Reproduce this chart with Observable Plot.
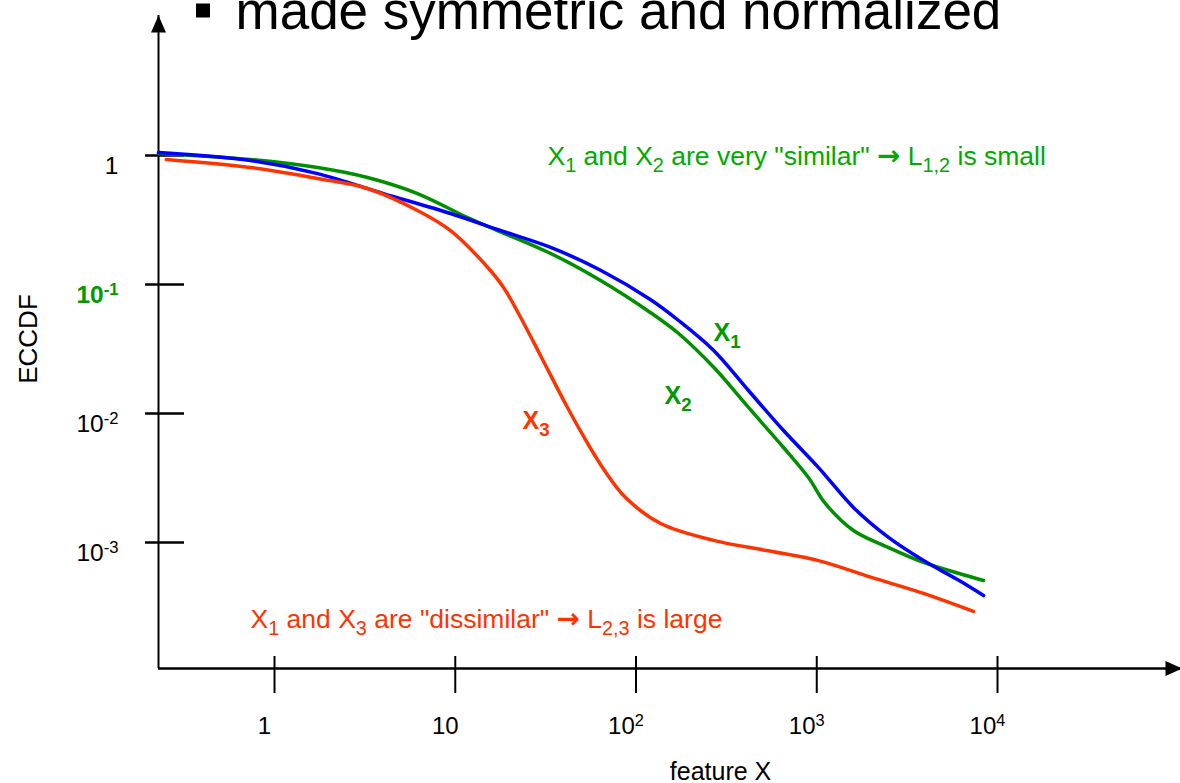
<!DOCTYPE html>
<html>
<head>
<meta charset="utf-8">
<script src="https://cdn.jsdelivr.net/npm/d3@7"></script>
<script src="https://cdn.jsdelivr.net/npm/@observablehq/plot@0.6"></script>
<style>
  html, body { margin: 0; padding: 0; background: #fff; }
  #chart svg { display: block; }
</style>
</head>
<body>
<div id="chart"></div>
<script>
// ---------- data ----------
const x1Feature = [0.228, 0.736, 1.73, 4.01, 9.42, 17.1, 33.7, 63.7, 120, 172, 269, 419, 655, 1023, 1596, 2495, 3899, 6138, 8375];
const x1Eccdf   = [1.054, 0.914, 0.724, 0.507, 0.355, 0.267, 0.194, 0.129, 0.0765, 0.0526, 0.0308, 0.01507, 0.00738, 0.00381, 0.001868, 0.001094, 0.000724, 0.000507, 0.000388];

const x2Feature = [0.228, 0.736, 1.73, 3.27, 6.18, 11.7, 17.1, 33.7, 63.7, 120, 172, 269, 419, 655, 899, 1117, 1596, 2495, 3899, 6138, 8375];
const x2Eccdf   = [1.037, 0.931, 0.807, 0.675, 0.507, 0.330, 0.262, 0.174, 0.1074, 0.0607, 0.0417, 0.0228, 0.01114, 0.00545, 0.00319, 0.002004, 0.001239, 0.000914, 0.000700, 0.000575, 0.000507];

const x3Feature = [0.252, 0.736, 1.73, 3.27, 6.18, 9.42, 14.3, 18.5, 23.0, 30.0, 41.2, 51.3, 67.0, 87.5, 137, 269, 527, 1023, 2009, 3899, 7362];
const x3Eccdf   = [0.931, 0.807, 0.664, 0.555, 0.375, 0.262, 0.148, 0.0948, 0.0555, 0.0272, 0.01153, 0.00664, 0.00361, 0.00223, 0.001403, 0.001038, 0.000867, 0.000724, 0.000536, 0.000403, 0.000292];

const xTicks = [1, 10, 100, 1000, 10000];
const xTickLabels = ["1", "10", "10^{2}", "10^{3}", "10^{4}"];
const yTicks = [1, 0.1, 0.01, 0.001];
const yTickLabels = ["1", "10^{-1}", "10^{-2}", "10^{-3}"];
const yHighlight = 0.1;

const xDomain = [0.2281, 102900];
const yDomain = [1.055e-4, 12.17];

const titleText = "made symmetric and normalized";
const xLabel = "feature X";
const yLabel = "ECCDF";
const noteSimilar = "X_{1} and X_{2} are very \"similar\" *{\u2192} L_{1,2} is small";
const noteDissimilar = "X_{1} and X_{3} are \"dissimilar\" *{\u2192} L_{2,3} is large";
const seriesNames = ["X_{1}", "X_{2}", "X_{3}"];

// ---------- styling ----------
const BLUE = "#0000ff", GREEN_LINE = "#008f00", GREEN_TEXT = "#00aa00", GREEN_LABEL = "#009900", RED = "#ff3300";
const FONT = "'Liberation Sans', Arial, Helvetica, sans-serif";

const toRows = (xs, ys) => xs.map((x, i) => ({x, y: ys[i]}));
const s1 = toRows(x1Feature, x1Eccdf);
const s2 = toRows(x2Feature, x2Eccdf);
const s3 = toRows(x3Feature, x3Eccdf);

const xTickRows = xTicks.map((v, i) => ({v, label: xTickLabels[i]}));
const yTickRows = yTicks.map((v, i) => ({v, label: yTickLabels[i]}));

const arrowUp = {draw(ctx) { ctx.moveTo(0, 0); ctx.lineTo(7.5, 17); ctx.lineTo(-7.5, 17); ctx.closePath(); }};
const arrowRight = {draw(ctx) { ctx.moveTo(2, 0); ctx.lineTo(-15, 7.5); ctx.lineTo(-15, -7.5); ctx.closePath(); }};
const squareSym = {draw(ctx) { ctx.rect(-7, -7, 14, 14); }};

const W = 1180, H = 783, ML = 158, MR = 0, MT = 15, MB = 115;
const frameW = W - ML - MR, frameH = H - MT - MB;

const chart = Plot.plot({
  width: W, height: H,
  marginLeft: ML, marginRight: MR, marginTop: MT, marginBottom: MB,
  style: {fontFamily: FONT, background: "#fff", color: "#000", overflow: "visible"},
  x: {type: "log", domain: xDomain, axis: null},
  y: {type: "log", domain: yDomain, axis: null},
  marks: [
    // axis lines
    Plot.ruleY([yDomain[0]], {y: d => d, stroke: "#000", strokeWidth: 2.5}),
    Plot.ruleX([xDomain[0]], {x: d => d, stroke: "#000", strokeWidth: 2}),
    // ticks crossing the axes
    Plot.tickX(xTicks, {x: d => d, stroke: "#000", strokeWidth: 2, insetTop: frameH - 12, insetBottom: -25}),
    Plot.tickY(yTicks, {y: d => d, stroke: "#000", strokeWidth: 2.5, insetLeft: -13, insetRight: frameW - 26}),
    // arrow heads
    Plot.dot([0], {x: () => xDomain[0], y: () => yDomain[1], symbol: arrowUp, fill: "#000", stroke: "none", r: 8}),
    Plot.dot([0], {x: () => xDomain[1], y: () => yDomain[0], symbol: arrowRight, fill: "#000", stroke: "none", r: 8}),
    // tick labels
    Plot.text(xTickRows, {x: "v", text: "label", frameAnchor: "bottom", dy: 65, dx: -10, lineAnchor: "bottom", textAnchor: "middle", fontSize: 24, fill: "#000"}),
    Plot.text(yTickRows.filter(d => d.v !== yHighlight), {y: "v", text: "label", frameAnchor: "left", dx: -40, dy: 18, lineAnchor: "bottom", textAnchor: "end", fontSize: 24.5, fill: "#000"}),
    Plot.text(yTickRows.filter(d => d.v === yHighlight), {y: "v", text: "label", frameAnchor: "left", dx: -40, dy: 18, lineAnchor: "bottom", textAnchor: "end", fontSize: 24.5, fontWeight: "bold", fill: GREEN_LABEL}),
    // axis titles
    Plot.text([xLabel], {text: d => d, frameAnchor: "bottom", dx: 51, dy: 111, lineAnchor: "bottom", textAnchor: "middle", fontSize: 25, fill: "#000"}),
    Plot.text([yLabel], {text: d => d, frameAnchor: "left", dx: -122, dy: -3, rotate: -90, lineAnchor: "bottom", textAnchor: "middle", fontSize: 26, fill: "#000"}),
    // curves
    Plot.line(s2, {x: "x", y: "y", stroke: GREEN_LINE, strokeWidth: 3.5, curve: "catmull-rom"}),
    Plot.line(s1, {x: "x", y: "y", stroke: BLUE, strokeWidth: 3.5, curve: "catmull-rom"}),
    Plot.line(s3, {x: "x", y: "y", stroke: RED, strokeWidth: 3.5, curve: "catmull-rom"}),
    // series labels
    Plot.text([seriesNames[0]], {text: d => d, frameAnchor: "top-left", dx: 555, dy: 325, lineAnchor: "bottom", textAnchor: "start", fontSize: 25, fontWeight: "bold", fill: GREEN_LABEL}),
    Plot.text([seriesNames[1]], {text: d => d, frameAnchor: "top-left", dx: 506, dy: 388, lineAnchor: "bottom", textAnchor: "start", fontSize: 25, fontWeight: "bold", fill: GREEN_LABEL}),
    Plot.text([seriesNames[2]], {text: d => d, frameAnchor: "top-left", dx: 364, dy: 413, lineAnchor: "bottom", textAnchor: "start", fontSize: 25, fontWeight: "bold", fill: RED}),
    // annotations
    Plot.text([noteSimilar], {text: d => d, frameAnchor: "top-left", dx: 389, dy: 149, lineAnchor: "bottom", textAnchor: "start", fontSize: 26.5, fill: GREEN_TEXT}),
    Plot.text([noteDissimilar], {text: d => d, frameAnchor: "top-left", dx: 92, dy: 612, lineAnchor: "bottom", textAnchor: "start", fontSize: 26.5, fill: RED}),
    // slide bullet title (cut at top, as in the slide)
    Plot.dot([0], {symbol: squareSym, frameAnchor: "top-left", dx: 44.5, dy: -5, fill: "#000", stroke: "none", r: 8}),
    Plot.text([titleText], {text: d => d, frameAnchor: "top-left", dx: 77, dy: 13, lineAnchor: "bottom", textAnchor: "start", fontSize: 53, fill: "#000"})
  ]
});

document.getElementById("chart").appendChild(chart);

// rich text: ^{...} superscript, _{...} subscript, *{...} heavy arrow
function richText(root) {
  root.querySelectorAll("text").forEach(el => {
    const t = el.textContent;
    if (!/[_^*]\{/.test(t)) return;
    const fs = parseFloat(getComputedStyle(el).fontSize) || 24;
    while (el.firstChild) el.removeChild(el.firstChild);
    const re = /([_^*])\{([^}]*)\}/g;
    let last = 0, m, cur = 0;
    const add = (s, kind) => {
      const ts = document.createElementNS("http://www.w3.org/2000/svg", "tspan");
      const target = kind === "^" ? -0.32 * fs : kind === "_" ? 0.3 * fs : 0;
      const d = target - cur;
      if (d !== 0) ts.setAttribute("dy", d);
      cur = target;
      if (kind === "^") ts.setAttribute("font-size", 0.68 * fs);
      if (kind === "_") ts.setAttribute("font-size", 0.75 * fs);
      if (kind === "*") {
        ts.setAttribute("font-size", 1.05 * fs);
        ts.setAttribute("font-family", "'DejaVu Sans', sans-serif");
        ts.setAttribute("font-weight", "bold");
      }
      ts.textContent = s;
      el.appendChild(ts);
    };
    while ((m = re.exec(t))) {
      if (m.index > last) add(t.slice(last, m.index), "");
      add(m[2], m[1]);
      last = re.lastIndex;
    }
    if (last < t.length) add(t.slice(last), "");
  });
}
richText(chart);
</script>
</body>
</html>
